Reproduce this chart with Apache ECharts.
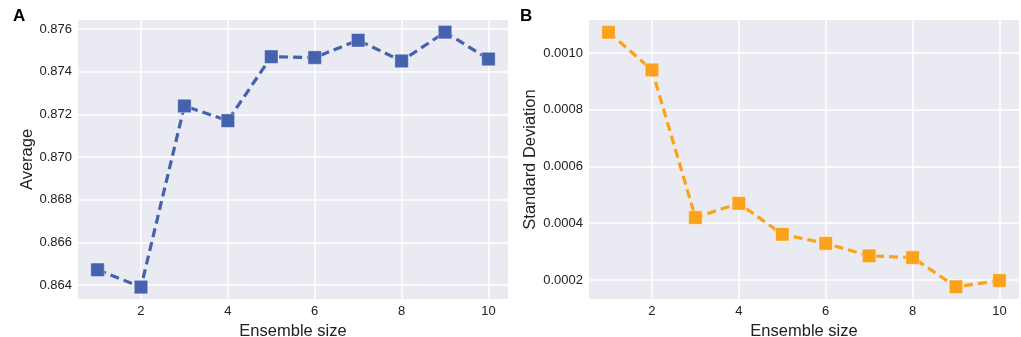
<!DOCTYPE html>
<html>
<head>
<meta charset="utf-8">
<script src="https://cdn.jsdelivr.net/npm/echarts@6/dist/echarts.min.js"></script>
<style>html,body{margin:0;padding:0;background:#fff}#c{width:1021px;height:337px}</style>
</head>
<body>
<div id="c"></div>
<script>
const ensembleSizes = [1, 2, 3, 4, 5, 6, 7, 8, 9, 10];
const averageValues = [0.86471, 0.86390, 0.87239, 0.87170, 0.87470, 0.87466, 0.87547, 0.87450, 0.87585, 0.87459];
const stdValues = [0.001073, 0.000940, 0.000420, 0.000470, 0.000361, 0.000329, 0.000285, 0.000279, 0.000176, 0.000198];
const xTicks = [2, 4, 6, 8, 10];
const avgTicks = [0.864, 0.866, 0.868, 0.870, 0.872, 0.874, 0.876];
const stdTicks = [0.0002, 0.0004, 0.0006, 0.0008, 0.0010];

const font = 'Liberation Sans, Arial, sans-serif';
const bg = '#EAEAF2';
function xAxis(idx) {
  return {
    gridIndex: idx, type: 'value', min: 0.55, max: 10.45,
    name: 'Ensemble size', nameLocation: 'middle', nameGap: 21,
    nameTextStyle: {fontFamily: font, fontSize: 16.5, color: '#222'},
    axisLine: {show: false}, axisTick: {show: false, customValues: xTicks},
    axisLabel: {customValues: xTicks, fontFamily: font, fontSize: 13, color: '#222', margin: 6},
    splitLine: {show: true, lineStyle: {color: '#fff', width: 1.5}}
  };
}
function yAxis(idx, name, ticks, mn, mx, dec, gap) {
  return {
    gridIndex: idx, type: 'value', min: mn, max: mx,
    name: name, nameLocation: 'middle', nameGap: gap,
    nameTextStyle: {fontFamily: font, fontSize: 16.5, color: '#222'},
    axisLine: {show: false}, axisTick: {show: false, customValues: ticks},
    axisLabel: {customValues: ticks, fontFamily: font, fontSize: 13, color: '#222', margin: 6,
      formatter: v => v.toFixed(dec)},
    splitLine: {show: true, lineStyle: {color: '#fff', width: 1.5}}
  };
}
function series(idx, values, color) {
  return {
    type: 'line', xAxisIndex: idx, yAxisIndex: idx,
    data: ensembleSizes.map((x, i) => [x, values[i]]),
    symbol: 'rect', symbolSize: 13.5,
    lineStyle: {color: color, width: 3.2, type: [9, 5]},
    itemStyle: {color: color, borderColor: 'rgba(255,255,255,0.5)', borderWidth: 0.8},
    emphasis: {disabled: true}, animation: false
  };
}
const chart = echarts.init(document.getElementById('c'));
chart.setOption({
  backgroundColor: '#fff',
  animation: false,
  grid: [
    {left: 78, right: 513, top: 20, bottom: 38, show: true, backgroundColor: bg, borderWidth: 0, containLabel: false, outerBoundsMode: 'none'},
    {left: 589, right: 2, top: 20, bottom: 38, show: true, backgroundColor: bg, borderWidth: 0, containLabel: false, outerBoundsMode: 'none'}
  ],
  xAxis: [xAxis(0), xAxis(1)],
  yAxis: [
    yAxis(0, 'Average', avgTicks, 0.86334, 0.87642, 3, 42),
    yAxis(1, 'Standard Deviation', stdTicks, 0.000133, 0.001116, 4, 48)
  ],
  graphic: [
    {type: 'text', left: 13, top: 8, style: {text: 'A', fontFamily: font, fontSize: 17, fontWeight: 'bold', fill: '#000'}},
    {type: 'text', left: 520, top: 8, style: {text: 'B', fontFamily: font, fontSize: 17, fontWeight: 'bold', fill: '#000'}}
  ],
  series: [series(0, averageValues, '#4462AE'), series(1, stdValues, '#FAA21B')]
});
</script>
</body>
</html>
